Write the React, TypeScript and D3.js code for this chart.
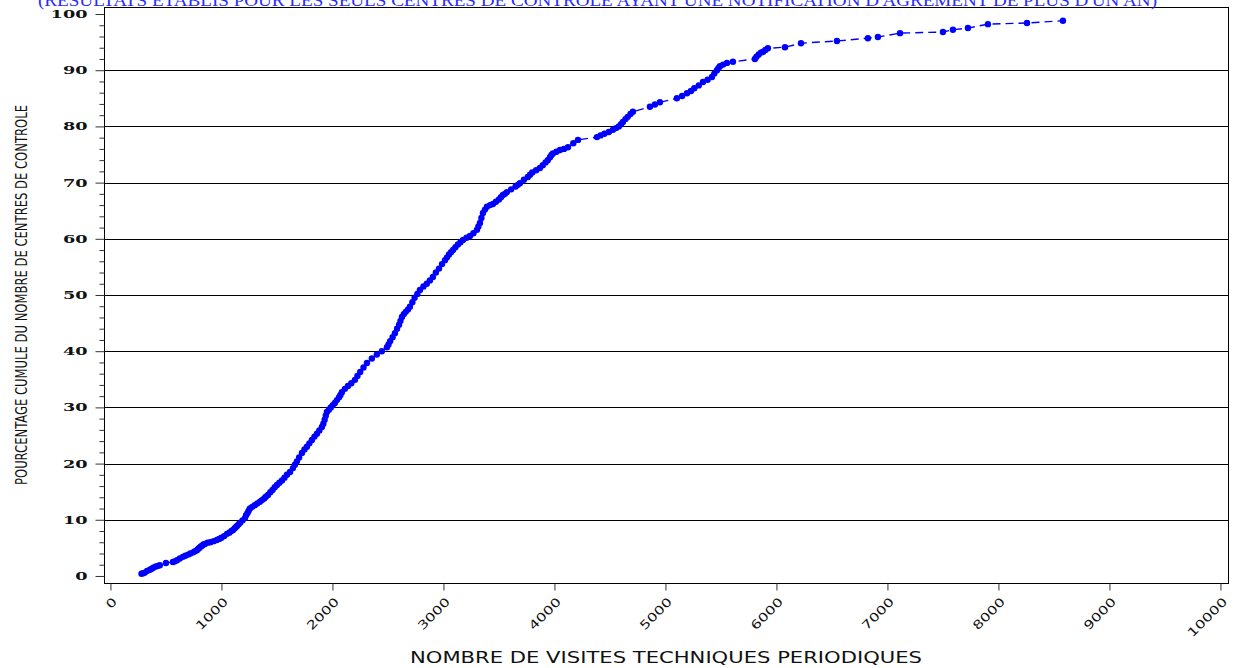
import * as d3 from 'd3';
import { useEffect, useRef } from 'react';

// nombre de visites (abscisse) et pourcentage cumule (ordonnee)
const visits = [
  280, 295, 310, 330, 356, 372, 390, 410, 428, 445, 500, 563, 580, 600, 625, 653, 675, 700,
  720, 745, 762, 779, 790, 800, 812, 825, 838, 851, 875, 900, 930, 959, 980, 1000, 1025, 1050,
  1070, 1090, 1105, 1120, 1130, 1140, 1155, 1170, 1190, 1212, 1222, 1235, 1245, 1257, 1278,
  1300, 1322, 1347, 1365, 1385, 1400, 1419, 1440, 1460, 1480, 1500, 1522, 1545, 1568, 1590,
  1618, 1644, 1662, 1680, 1700, 1725, 1748, 1770, 1792, 1815, 1838, 1860, 1882, 1905, 1918,
  1930, 1940, 1950, 1968, 1985, 2003, 2022, 2040, 2060, 2072, 2085, 2112, 2140, 2170, 2203,
  2225, 2250, 2280, 2311, 2355, 2400, 2445, 2491, 2505, 2520, 2542, 2563, 2582, 2600, 2613,
  2626, 2643, 2660, 2680, 2698, 2720, 2740, 2765, 2788, 2820, 2850, 2878, 2905, 2932, 2960,
  2987, 3014, 3032, 3050, 3068, 3086, 3108, 3130, 3153, 3176, 3208, 3239, 3270, 3302, 3315,
  3329, 3342, 3356, 3374, 3392, 3420, 3446, 3473, 3500, 3518, 3536, 3554, 3572, 3610, 3650,
  3670, 3689, 3725, 3760, 3780, 3800, 3835, 3869, 3895, 3920, 3940, 3960, 3973, 3986, 4018,
  4050, 4086, 4122, 4170, 4212, 4383, 4415, 4450, 4490, 4527, 4555, 4580, 4600, 4617, 4640,
  4660, 4685, 4707, 4860, 4905, 4950, 5103, 5150, 5194, 5230, 5260, 5300, 5338, 5380, 5419,
  5440, 5464, 5478, 5491, 5520, 5554, 5608, 5806, 5820, 5840, 5860, 5880, 5900, 5923, 6077,
  6221, 6545, 6824, 6914, 7113, 7500, 7590, 7725, 7905, 8257, 8581
];
const percent = [
  0.4, 0.5, 0.6, 0.9, 1.1, 1.3, 1.5, 1.7, 1.8, 1.9, 2.3, 2.5, 2.6, 2.8, 3.1, 3.4, 3.6, 3.8,
  4.0, 4.2, 4.4, 4.6, 4.8, 5.0, 5.2, 5.4, 5.6, 5.7, 5.9, 6.0, 6.2, 6.4, 6.6, 6.8, 7.1, 7.5,
  7.7, 8.0, 8.2, 8.5, 8.7, 8.9, 9.2, 9.5, 9.9, 10.3, 10.8, 11.2, 11.6, 12.0, 12.3,
  12.6, 12.9, 13.2, 13.5, 13.8, 14.1, 14.4, 14.9, 15.3, 15.8, 16.2, 16.6, 17.0, 17.5, 18.0,
  18.5, 19.2, 19.8, 20.4, 21.1, 21.9, 22.5, 23.0, 23.6, 24.2, 24.8, 25.3, 25.9, 26.5, 27.1,
  27.8, 28.5, 29.2, 29.6, 30.0, 30.4, 30.8, 31.3, 31.8, 32.2, 32.7, 33.3, 33.8, 34.3, 34.9,
  35.6, 36.3, 37.1, 37.9, 38.7, 39.4, 40.0, 40.7, 41.2, 41.8, 42.5, 43.2, 44.0, 44.7, 45.4,
  46.1, 46.6, 47.0, 47.4, 47.9, 48.7, 49.5, 50.2, 50.9, 51.5, 52.0, 52.6, 53.2, 54.0, 54.7,
  55.5, 56.2, 56.7, 57.2, 57.6, 58.0, 58.5, 59.0, 59.4, 59.8, 60.2, 60.5, 61.0, 61.6, 62.2,
  62.8, 63.7, 64.6, 65.2, 65.7, 66.0, 66.2, 66.6, 67.0, 67.4, 67.8, 68.0, 68.3, 68.8, 69.3,
  69.6, 69.9, 70.5, 71.0, 71.4, 71.8, 72.2, 72.6, 73.1, 73.6, 74.0, 74.5, 74.9, 75.2, 75.5,
  75.8, 76.0, 76.3, 77.0, 77.6, 78.1, 78.4, 78.7, 79.0, 79.4, 79.7, 80.0, 80.4, 80.8, 81.3,
  81.7, 82.2, 82.6, 83.5, 83.9, 84.3, 85.0, 85.4, 85.9, 86.3, 86.8, 87.3, 87.9, 88.3, 88.8,
  89.4, 90.0, 90.4, 90.7, 91.0, 91.3, 91.5, 92.0, 92.4, 92.8, 93.1, 93.3, 93.6, 93.9, 94.1,
  94.8, 95.2, 95.7, 95.9, 96.6, 96.8, 97.2, 97.5, 98.2, 98.4, 98.8
];

const xTicks = [0, 1000, 2000, 3000, 4000, 5000, 6000, 7000, 8000, 9000, 10000];
const yTicks = [0, 10, 20, 30, 40, 50, 60, 70, 80, 90, 100];
const yMinorTicks = d3.range(0, 101, 2);

const title = "(RESULTATS ETABLIS POUR LES SEULS CENTRES DE CONTROLE AYANT UNE NOTIFICATION D'AGREMENT DE PLUS D'UN AN)";
const xTitle = "NOMBRE DE VISITES TECHNIQUES PERIODIQUES";
const yTitle = "POURCENTAGE CUMULE DU NOMBRE DE CENTRES DE CONTROLE";

function CumulChart() {
    const svgRef = useRef<SVGSVGElement>(null);

    useEffect(() => {
        if (!svgRef.current) return;
        document.body.style.margin = "0";

        const svg = d3.select(svgRef.current);
        svg.selectAll('*').remove();

        const box = { left: 104, right: 1228, top: 7, bottom: 583 };

        const x = d3.scaleLinear().domain([-58, 10068]).range([box.left, box.right]);
        const y = d3.scaleLinear().domain([-1.25, 101.25]).range([box.bottom, box.top]);

        const points: [number, number][] = visits.map((v, i) => [v, percent[i]]);

        // grille horizontale
        svg.append("g")
            .selectAll("line")
            .data(yTicks.filter(t => t > 0 && t < 100))
            .enter().append("line")
            .attr("x1", box.left).attr("x2", box.right)
            .attr("y1", d => Math.round(y(d)) + 0.5).attr("y2", d => Math.round(y(d)) + 0.5)
            .attr("stroke", "#000").attr("stroke-width", 1);

        // cadre
        svg.append("rect")
            .attr("x", box.left + 0.5).attr("y", box.top + 0.5)
            .attr("width", box.right - box.left).attr("height", box.bottom - box.top)
            .attr("fill", "none").attr("stroke", "#000").attr("stroke-width", 1);

        // axe Y
        const yAxis = svg.append("g")
            .attr("transform", `translate(${box.left + 0.5},0)`)
            .call(d3.axisLeft(y).tickValues(yTicks).tickSize(9).tickPadding(8).tickFormat(d3.format("d")));
        yAxis.select(".domain").remove();
        yAxis.selectAll(".tick line").attr("stroke", "#333");
        yAxis.selectAll<SVGTextElement, number>(".tick text")
            .attr("font-family", "'DejaVu Serif', serif")
            .attr("font-size", 11)
            .attr("font-weight", "bold")
            .attr("fill", "#111")
            .attr("textLength", d => String(d).length * 12.3)
            .attr("lengthAdjust", "spacingAndGlyphs");

        svg.append("g")
            .attr("transform", `translate(${box.left + 0.5},0)`)
            .call(d3.axisLeft(y).tickValues(yMinorTicks.filter(t => t % 10 !== 0)).tickSize(5).tickFormat(() => ""))
            .call(g => g.select(".domain").remove())
            .selectAll(".tick line").attr("stroke", "#333");

        // axe X
        const xAxis = svg.append("g")
            .attr("transform", `translate(0,${box.bottom + 0.5})`)
            .call(d3.axisBottom(x).tickValues(xTicks).tickSize(7).tickFormat(d3.format("d")));
        xAxis.select(".domain").remove();
        xAxis.selectAll(".tick line").attr("stroke", "#333");
        xAxis.selectAll<SVGTextElement, number>(".tick text")
            .attr("font-family", "'DejaVu Sans', sans-serif")
            .attr("font-size", 12)
            .attr("fill", "#111")
            .attr("text-anchor", "end")
            .attr("dy", 0)
            .attr("y", 0)
            .attr("transform", "translate(7,19) rotate(-45)")
            .attr("textLength", d => String(d).length * 10)
            .attr("lengthAdjust", "spacingAndGlyphs");

        // courbe en tirets
        const line = d3.line<[number, number]>()
            .x(d => x(d[0]))
            .y(d => y(d[1]));

        svg.append("path")
            .datum(points)
            .attr("d", line)
            .attr("fill", "none")
            .attr("stroke", "#0000ff")
            .attr("stroke-width", 1.4)
            .attr("stroke-dasharray", "8,5");

        svg.append("g")
            .selectAll("circle")
            .data(points)
            .enter().append("circle")
            .attr("cx", d => x(d[0]))
            .attr("cy", d => y(d[1]))
            .attr("r", 3.2)
            .attr("fill", "#0000ff");

        // titres
        svg.append("text")
            .attr("x", 38).attr("y", 5.5)
            .attr("font-family", "'Liberation Serif', serif")
            .attr("font-size", 16)
            .attr("fill", "#2a2aff")
            .attr("textLength", 1119)
            .attr("lengthAdjust", "spacingAndGlyphs")
            .text(title);

        svg.append("text")
            .attr("x", 410).attr("y", 662.5)
            .attr("font-family", "'DejaVu Sans', sans-serif")
            .attr("font-size", 15)
            .attr("fill", "#111")
            .attr("textLength", 512)
            .attr("lengthAdjust", "spacingAndGlyphs")
            .text(xTitle);

        svg.append("text")
            .attr("transform", "translate(27,295) rotate(-90)")
            .attr("text-anchor", "middle")
            .attr("font-family", "'DejaVu Sans Condensed', 'DejaVu Sans', sans-serif")
            .attr("font-stretch", "condensed")
            .attr("font-size", 16)
            .attr("fill", "#111")
            .attr("textLength", 380)
            .attr("lengthAdjust", "spacingAndGlyphs")
            .text(yTitle);

        return () => {
            d3.select(svgRef.current).selectAll("*").remove();
        };
    }, []);

    return <svg ref={svgRef} width={1235} height={668} style={{ display: "block", background: "#fff" }}></svg>;
}

export default function App() {
    return <CumulChart />;
}
